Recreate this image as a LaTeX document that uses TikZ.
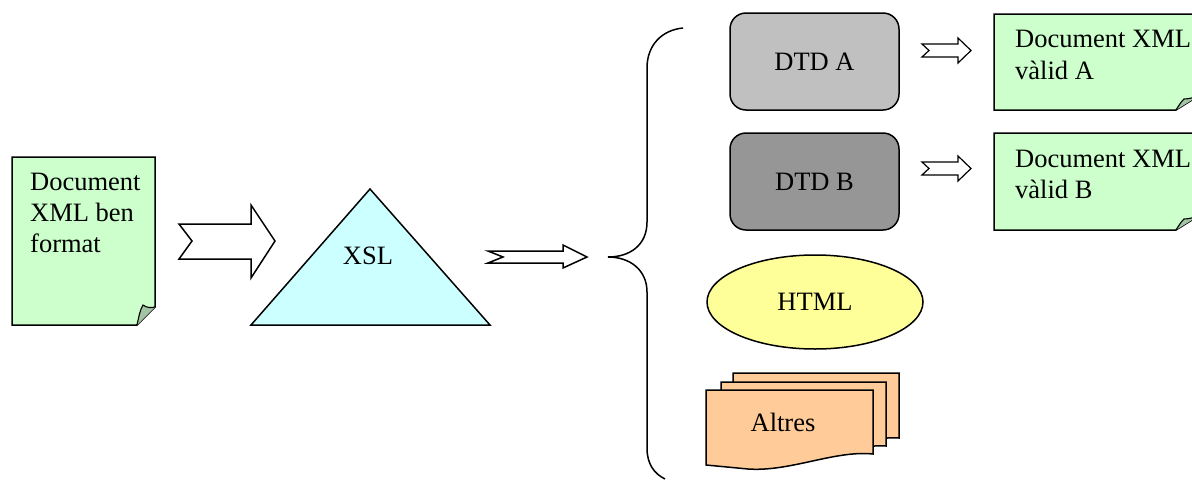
\documentclass[tikz,border=0pt]{standalone}
\usepackage{fontspec}
\setmainfont{Liberation Serif}
\usetikzlibrary{shapes.geometric}
\definecolor{docgreen}{HTML}{CCFFCC}
\definecolor{foldgreen}{HTML}{A3C4A3}
\definecolor{xslcyan}{HTML}{CCFFFF}
\definecolor{dtdA}{HTML}{C0C0C0}
\definecolor{dtdB}{HTML}{969696}
\definecolor{htmlyellow}{HTML}{FFFF99}
\definecolor{altresorange}{HTML}{FFCC99}
\tikzset{
  outline/.style={draw=black, line width=1.5pt, line join=miter},
  lbl/.style={font=\fontsize{26.5}{31}\selectfont, inner sep=0pt},
  dtdbox/.style={outline, rounded corners=16pt, minimum width=169pt, minimum height=97pt, lbl},
  blockarrow/.style={draw=black, fill=white, line width=1.5pt, line join=miter},
}
\begin{document}
\begin{tikzpicture}[x=1pt,y=-1pt]
\useasboundingbox (0,0) rectangle (1192,480);
\clip (0,0) rectangle (1192,480);
% left document
\path[outline, fill=docgreen] (12,157) -- (155,157) -- (155,307) -- (137,325) -- (12,325) -- cycle;
\path[outline, fill=foldgreen, line width=1.1pt] (137,325) .. controls (139,316) and (140,310) .. (143,305) .. controls (147,308) and (151,308) .. (155,307);
\node[lbl, anchor=base west] (doc1) at (30,190) {Document};
\node[lbl, anchor=base west] (doc2) at (30,221) {XML ben};
\node[lbl, anchor=base west] (doc3) at (30,252) {format};
% arrow 1
\path[blockarrow] (179,224) -- (192,241) -- (179,259) -- (251,259) -- (251,278) -- (275,241) -- (251,205) -- (251,224) -- cycle;
% XSL triangle
\path[outline, fill=xslcyan] (370,189) -- (490,325) -- (251,325) -- cycle;
\node[lbl] (xsl) at (368,256) {XSL};
% arrow 2
\path[blockarrow] (488,251) -- (503,257) -- (488,263) -- (563,263) -- (563,268) -- (587,257) -- (563,245) -- (563,251) -- cycle;
% brace
\draw[line width=1.5pt] (683,28) .. controls (662,30) and (647,45) .. (647,68) -- (647,222)
  .. controls (647,245) and (630,257) .. (608,257)
  .. controls (630,257) and (647,270) .. (647,292) -- (647,448)
  .. controls (647,465) and (655,474) .. (665,479);
% DTD boxes
\node[dtdbox, fill=dtdA] (dtda) at (814.5,61.5) {DTD A};
\node[dtdbox, fill=dtdB] (dtdb) at (814.5,181.5) {DTD B};
% small arrows
\path[blockarrow, line width=1.2pt] (922,44) -- (929,50.5) -- (922,57) -- (958,57) -- (958,63) -- (971,50.5) -- (958,38) -- (958,44) -- cycle;
\path[blockarrow, line width=1.2pt] (922,162) -- (929,168.5) -- (922,175) -- (958,175) -- (958,181) -- (971,168.5) -- (958,156) -- (958,162) -- cycle;
% valid documents
\path[outline, fill=docgreen] (994,14) -- (1200,14) -- (1200,95) -- (1176,110) -- (994,110) -- cycle;
\path[outline, fill=foldgreen, line width=1.1pt] (1176,110) .. controls (1179,105) and (1181,102) .. (1184,99) .. controls (1190,99) and (1195,97) .. (1200,95);
\node[lbl, anchor=base west] (va1) at (1015,47) {Document XML};
\node[lbl, anchor=base west] (va2) at (1015,79) {vàlid A};
\path[outline, fill=docgreen] (994,133) -- (1200,133) -- (1200,215) -- (1176,230) -- (994,230) -- cycle;
\path[outline, fill=foldgreen, line width=1.1pt] (1176,230) .. controls (1179,225) and (1181,222) .. (1184,219) .. controls (1190,219) and (1195,217) .. (1200,215);
\node[lbl, anchor=base west] (vb1) at (1015,167) {Document XML};
\node[lbl, anchor=base west] (vb2) at (1015,198) {vàlid B};
% HTML
\node[ellipse, outline, fill=htmlyellow, minimum width=216pt, minimum height=94pt, lbl] (html) at (815,302) {HTML};
% Altres
\path[outline, fill=altresorange] (733,373) -- (899,373) -- (899,438) .. controls (870,436) and (820,452) .. (775,441) .. controls (760,438) and (745,437) .. (733,440) -- cycle;
\path[outline, fill=altresorange] (721,382) -- (886,382) -- (886,446) .. controls (855,444) and (810,461) .. (763,450) .. controls (748,447) and (733,446) .. (721,449) -- cycle;
\path[outline, fill=altresorange] (706,390) -- (873,390) -- (873,454) .. controls (835,450) and (790,472) .. (748,469) -- (706,465) -- cycle;
\node[lbl] (altres) at (783,422) {Altres};
\end{tikzpicture}
\end{document}
